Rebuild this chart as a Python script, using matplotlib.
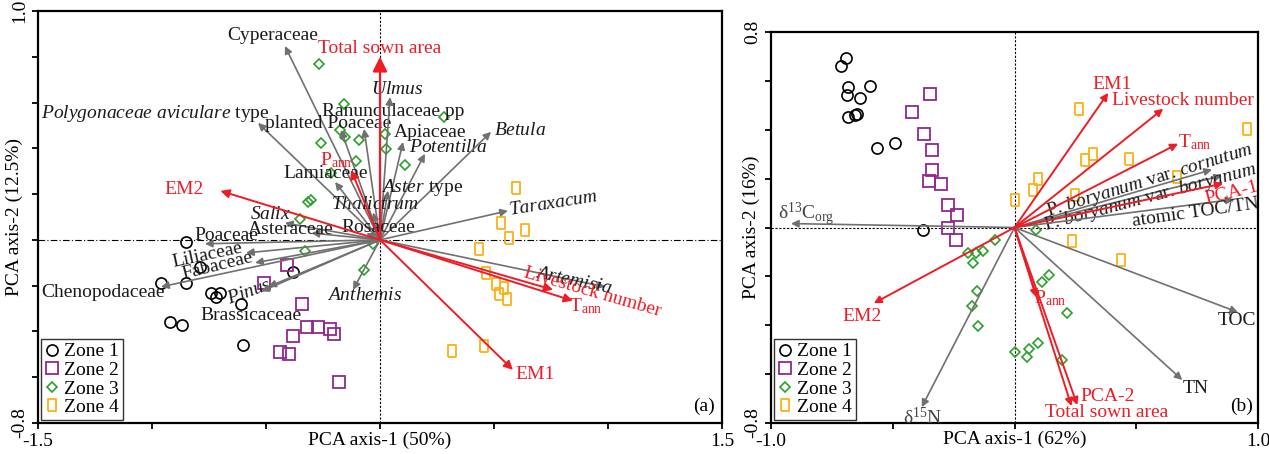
import matplotlib
matplotlib.use("Agg")
import matplotlib.pyplot as plt
from matplotlib.path import Path
from matplotlib.lines import Line2D

plt.rcParams['font.family'] = ['Liberation Serif', 'DejaVu Serif']
plt.rcParams['mathtext.fontset'] = 'custom'
plt.rcParams['mathtext.rm'] = 'Liberation Serif'
plt.rcParams['mathtext.it'] = 'Liberation Serif:italic'
plt.rcParams['mathtext.bf'] = 'Liberation Serif:bold'

# ---- (a) pollen PCA: sample scores ----
a_zone1_x = [-0.85, -0.96, -0.85, -0.79, -0.74, -0.70, -0.72, -0.61, -0.92, -0.87, -0.60, -0.38]
a_zone1_y = [-0.01, -0.19, -0.19, -0.12, -0.23, -0.23, -0.25, -0.28, -0.36, -0.37, -0.46, -0.14]
a_zone2_x = [-0.41, -0.51, -0.34, -0.32, -0.27, -0.22, -0.20, -0.38, -0.44, -0.40, -0.18]
a_zone2_y = [-0.11, -0.19, -0.28, -0.38, -0.38, -0.39, -0.41, -0.42, -0.49, -0.50, -0.62]
a_zone3_x = [-0.268, -0.158, -0.175, -0.154, -0.092, -0.259, 0.022, 0.026, -0.105, 0.110,
             -0.215, -0.316, -0.303, -0.351, 0.281, -0.329, -0.031, -0.070]
a_zone3_y = [0.769, 0.594, 0.480, 0.450, 0.437, 0.424, 0.463, 0.397, 0.345, 0.328,
             0.293, 0.166, 0.175, 0.092, 0.537, -0.048, -0.017, -0.131]
a_zone4_x = [0.596, 0.531, 0.636, 0.566, 0.434, 0.465, 0.509, 0.544, 0.522, 0.557, 0.316, 0.456]
a_zone4_y = [0.227, 0.074, 0.044, 0.009, -0.039, -0.144, -0.192, -0.210, -0.236, -0.258, -0.485, -0.463]

# taxa loadings
a_taxa = ['Cyperaceae', r'$\it{Polygonaceae\ aviculare}$ type', 'planted Poaceae',
          'Ranunculaceae pp', r'$\it{Ulmus}$', 'Apiaceae', r'$\it{Potentilla}$', r'$\it{Betula}$',
          r'$\it{Aster}$ type', r'$\it{Thalictrum}$', 'Lamiaceae', 'Rosaceae', r'$\it{Salix}$',
          'Asteraceae', 'Poaceae', 'Liliaceae', 'Fabaceae', 'Chenopodaceae', r'$\it{Pinus}$',
          'Brassicaceae', r'$\it{Anthemis}$', r'$\it{Taraxacum}$', r'$\it{Artemisia}$']
a_taxa_x = [-0.417, -0.535, -0.171, -0.070, 0.044, 0.101, 0.197, 0.487, 0.035, -0.030, -0.197,
            -0.060, -0.417, -0.300, -0.768, -0.588, -0.548, -0.960, -0.490, -0.520, -0.118,
            0.561, 0.987]
a_taxa_y = [0.847, 0.511, 0.480, 0.485, 0.624, 0.428, 0.376, 0.472, 0.215, 0.120, 0.253,
            0.030, 0.074, 0.030, -0.017, -0.057, -0.100, -0.205, -0.205, -0.225, -0.218,
            0.127, -0.205]

# environmental / proxy loadings
a_env = ['Total sown area', r'P$_{\rm ann}$', 'EM2', 'Livestock number', r'T$_{\rm ann}$', 'EM1']
a_env_x = [0.0, -0.127, -0.700, 0.759, 0.846, 0.583]
a_env_y = [0.800, 0.306, 0.214, -0.218, -0.266, -0.568]

# ---- (b) geochemistry PCA ----
b_zone1_x = [-0.693, -0.713, -0.684, -0.689, -0.594, -0.635, -0.684, -0.648, -0.656, -0.566, -0.492, -0.377]
b_zone1_y = [0.694, 0.661, 0.576, 0.543, 0.580, 0.531, 0.453, 0.465, 0.461, 0.327, 0.347, -0.012]
b_zone2_x = [-0.348, -0.422, -0.373, -0.340, -0.340, -0.352, -0.303, -0.275, -0.238, -0.275, -0.242]
b_zone2_y = [0.547, 0.473, 0.384, 0.318, 0.237, 0.192, 0.176, 0.094, 0.053, 0.0, -0.053]
b_zone3_x = [-0.082, -0.193, -0.160, -0.131, -0.172, -0.152, -0.176, -0.148, 0.0, 0.090,
             0.143, 0.111, 0.217, 0.098, 0.061, 0.053, 0.197]
b_zone3_y = [-0.053, -0.106, -0.106, -0.098, -0.147, -0.261, -0.322, -0.404, -0.510, -0.012,
             -0.196, -0.224, -0.351, -0.473, -0.498, -0.531, -0.543]
b_zone4_x = [0.266, 0.955, 0.324, 0.291, 0.471, 0.098, 0.078, 0.668, 0.250, 0.0, 0.238, 0.439]
b_zone4_y = [0.486, 0.404, 0.302, 0.278, 0.282, 0.200, 0.155, 0.208, 0.131, 0.114, -0.057, -0.131]

b_vars = [r'δ$^{13}$C$_{\rm org}$', r'P. $\it{boryanum}$ var. $\it{cornutum}$',
          r'P. $\it{boryanum}$ var. $\it{boryanum}$', 'atomic TOC/TN', 'TOC', 'TN', r'δ$^{15}$N']
b_vars_x = [-0.918, 0.811, 0.852, 0.900, 0.918, 0.689, -0.381]
b_vars_y = [0.016, 0.237, 0.212, 0.115, -0.347, -0.624, -0.735]

b_env = ['EM1', 'Livestock number', r'T$_{\rm ann}$', 'PCA-1', 'PCA-2', 'Total sown area',
         r'P$_{\rm ann}$', 'EM2']
b_env_x = [0.385, 0.611, 0.672, 0.857, 0.258, 0.234, 0.090, -0.578]
b_env_y = [0.551, 0.486, 0.343, 0.180, -0.727, -0.731, -0.286, -0.310]

# label placement (x, y, rotation) for each arrow label
a_taxa_lab = [(-0.469, 0.895, 0), (-1.487, 0.55, 0), (-0.228, 0.507, 0), (0.057, 0.563, 0),
              (0.075, 0.659, 0), (0.219, 0.467, 0), (0.298, 0.402, 0), (0.614, 0.480, 0),
              (0.184, 0.231, 0), (-0.022, 0.153, 0), (-0.237, 0.288, 0), (-0.009, 0.052, 0),
              (-0.482, 0.109, 0), (-0.390, 0.044, 0), (-0.675, 0.017, 0), (-0.759, -0.066, 12),
              (-0.711, -0.114, 14), (-1.215, -0.231, 0), (-0.575, -0.227, 20), (-0.566, -0.332, 0),
              (-0.066, -0.245, 0), (0.759, 0.157, 9), (0.851, -0.179, -12)]
a_env_lab = [(0.0, 0.834, 0), (-0.193, 0.349, 0), (-0.86, 0.218, 0), (0.93, -0.227, -16),
             (0.904, -0.288, 0), (0.68, -0.59, 0)]
b_vars_lab = [(-0.857, 0.053, 0), (0.557, 0.192, 17), (0.557, 0.122, 15), (0.742, 0.061, 8),
              (0.914, -0.380, 0), (0.746, -0.657, 0), (-0.377, -0.776, 0)]
b_env_lab = [(0.402, 0.584, 0), (0.693, 0.518, 0), (0.742, 0.351, 0), (0.893, 0.143, 14),
             (0.381, -0.690, 0), (0.377, -0.759, 0), (0.148, -0.290, 0), (-0.627, -0.363, 0)]

RED = '#ee1c25'
GRAY = '#707070'
C1, C2, C3, C4 = 'black', '#92278f', '#2ca02c', '#fbb117'
FS = 14

rect = Path([(-0.33, -0.5), (0.33, -0.5), (0.33, 0.5), (-0.33, 0.5), (-0.33, -0.5)])


def draw_arrow(ax, x, y, color, lw=1.2, scale=11):
    ax.annotate('', xy=(x, y), xytext=(0, 0),
                arrowprops=dict(arrowstyle='-|>', color=color, lw=lw,
                                mutation_scale=scale, shrinkA=0, shrinkB=0))


def draw_scores(ax, zones):
    (x1, y1), (x2, y2), (x3, y3), (x4, y4) = zones
    ax.plot(x1, y1, 'o', ms=8, mfc='none', mec=C1, mew=1.2, ls='none')
    ax.plot(x2, y2, 's', ms=8, mfc='none', mec=C2, mew=1.3, ls='none')
    ax.plot(x3, y3, 'D', ms=5, mfc='none', mec=C3, mew=1.2, ls='none')
    ax.plot(x4, y4, marker=rect, ms=9, mfc='none', mec=C4, mew=1.3, ls='none')


def style_axes(ax, xlim, ylim, xticks, yticks, xlabel, ylabel, tag, hdash, ylab_x):
    ax.set_xlim(*xlim)
    ax.set_ylim(*ylim)
    ax.axhline(0, color='black', lw=0.8, ls=hdash, zorder=0)
    ax.axvline(0, color='black', lw=0.8, ls=(0, (2, 1.5)), zorder=0)
    for s in ax.spines.values():
        s.set_linewidth(1.6)
    ax.set_xticks(xticks)
    ax.set_xticklabels(['%.1f' % xticks[0]] + [''] * (len(xticks) - 2) + ['%.1f' % xticks[-1]],
                       fontsize=FS)
    ax.set_yticks(yticks)
    ax.set_yticklabels(['%.1f' % yticks[0]] + [''] * (len(yticks) - 2) + ['%.1f' % yticks[-1]],
                       fontsize=FS, rotation=90, va='center')
    ax.tick_params(direction='out', length=4, width=1.3, pad=3)
    ax.set_xlabel(xlabel, fontsize=FS, va='center')
    ax.xaxis.set_label_coords(0.5, -0.042)
    ax.set_ylabel(ylabel, fontsize=FS, va='center', ha='center')
    ax.yaxis.set_label_coords(ylab_x, 0.5)
    ax.text(0.99, 0.02, tag, transform=ax.transAxes, ha='right', va='bottom', fontsize=FS)
    handles = [Line2D([], [], marker='o', ms=8, mfc='none', mec=C1, mew=1.2, ls='none'),
               Line2D([], [], marker='s', ms=8, mfc='none', mec=C2, mew=1.3, ls='none'),
               Line2D([], [], marker='D', ms=5, mfc='none', mec=C3, mew=1.2, ls='none'),
               Line2D([], [], marker=rect, ms=9, mfc='none', mec=C4, mew=1.3, ls='none')]
    leg = ax.legend(handles, ['Zone 1', 'Zone 2', 'Zone 3', 'Zone 4'], loc='lower left',
                    fontsize=FS, frameon=True, fancybox=False, borderaxespad=0.15,
                    handlelength=0.7, handletextpad=0.3, labelspacing=0.05, borderpad=0.2)
    leg.get_frame().set_edgecolor('black')
    leg.get_frame().set_linewidth(1.0)


fig = plt.figure(figsize=(12.69, 4.54), dpi=100)
ax1 = fig.add_axes([38 / 1269, 31 / 454, 684 / 1269, 412 / 454])
ax2 = fig.add_axes([771 / 1269, 31 / 454, 487 / 1269, 391 / 454])

# panel (a)
draw_scores(ax1, [(a_zone1_x, a_zone1_y), (a_zone2_x, a_zone2_y),
                  (a_zone3_x, a_zone3_y), (a_zone4_x, a_zone4_y)])
for i, (name, x, y, (lx, ly, rot)) in enumerate(zip(a_taxa, a_taxa_x, a_taxa_y, a_taxa_lab)):
    draw_arrow(ax1, x, y, GRAY)
    ax1.text(lx, ly, name, fontsize=FS, color='#1a1a1a', ha='left' if i == 1 else 'center',
             va='center', rotation=rot)
for name, x, y, (lx, ly, rot) in zip(a_env, a_env_x, a_env_y, a_env_lab):
    big = name == 'Total sown area'
    draw_arrow(ax1, x, y, RED, lw=1.6 if big else 1.4, scale=22 if big else 13)
    ax1.text(lx, ly, name, fontsize=FS, color=RED, ha='center', va='center', rotation=rot)
style_axes(ax1, (-1.5, 1.5), (-0.8, 1.0), [-1.5, -1.0, -0.5, 0, 0.5, 1.0, 1.5],
           [-0.8, -0.6, -0.4, -0.2, 0, 0.2, 0.4, 0.6, 0.8, 1.0],
           'PCA axis-1 (50%)', 'PCA axis-2 (12.5%)', '(a)', (0, (6, 2, 1, 2)), -0.034)

# panel (b)
draw_scores(ax2, [(b_zone1_x, b_zone1_y), (b_zone2_x, b_zone2_y),
                  (b_zone3_x, b_zone3_y), (b_zone4_x, b_zone4_y)])
for name, x, y, (lx, ly, rot) in zip(b_vars, b_vars_x, b_vars_y, b_vars_lab):
    draw_arrow(ax2, x, y, GRAY)
    col = '#444444' if name.startswith('δ') else '#1a1a1a'
    ax2.text(lx, ly, name, fontsize=FS, color=col, ha='center', va='center', rotation=rot)
for name, x, y, (lx, ly, rot) in zip(b_env, b_env_x, b_env_y, b_env_lab):
    draw_arrow(ax2, x, y, RED, lw=1.4, scale=11)
    ax2.text(lx, ly, name, fontsize=FS, color=RED, ha='center', va='center', rotation=rot)
style_axes(ax2, (-1.0, 1.0), (-0.8, 0.8), [-1.0, -0.5, 0, 0.5, 1.0],
           [-0.8, -0.6, -0.4, -0.2, 0, 0.2, 0.4, 0.6, 0.8],
           'PCA axis-1 (62%)', 'PCA axis-2 (16%)', '(b)', (0, (2, 1.5)), -0.04)

fig.savefig('out.png', dpi=100)
